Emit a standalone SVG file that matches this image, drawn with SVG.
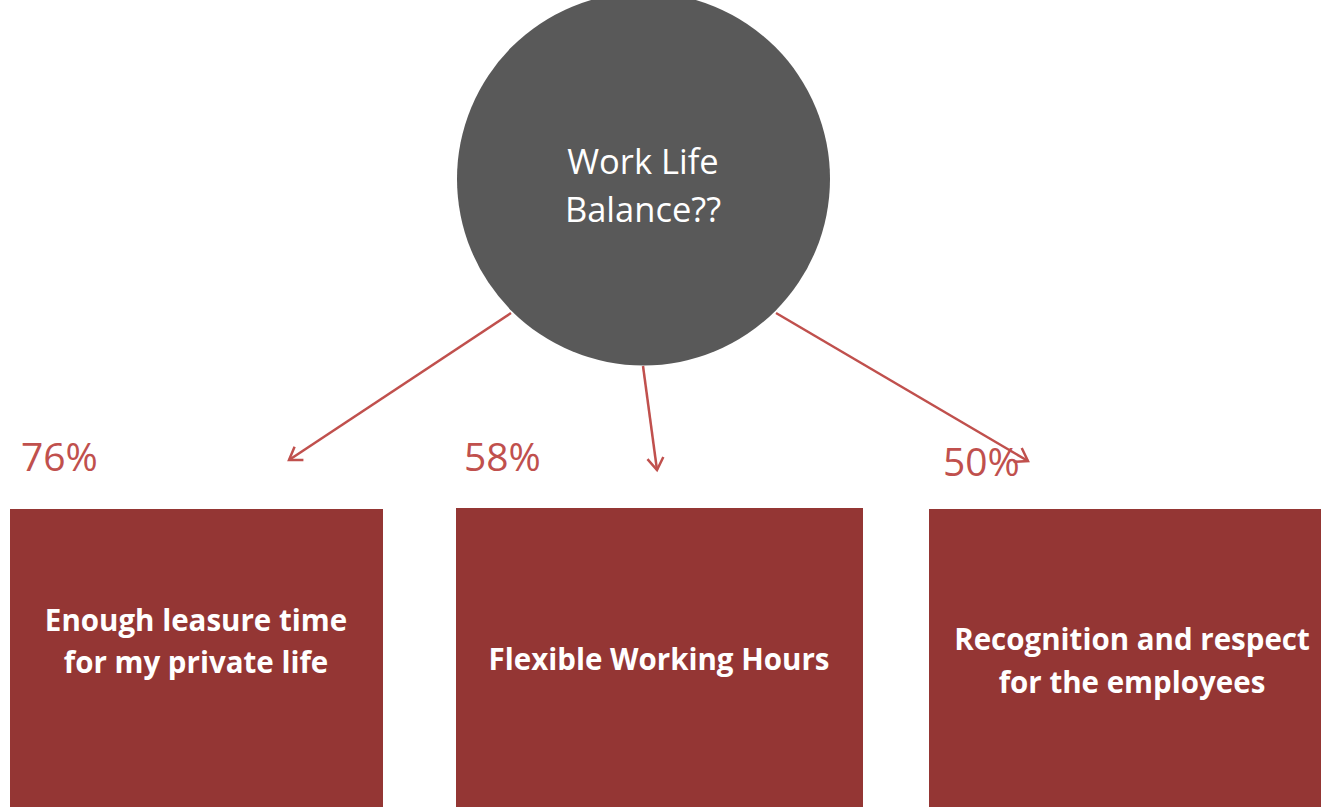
<svg xmlns="http://www.w3.org/2000/svg" width="1321" height="807" viewBox="0 0 1321 807">
<style>
.box{fill:#943634}
.bt{font-family:"Open Sans","Liberation Sans",sans-serif;font-weight:bold;font-size:29.5px;fill:#fff;text-anchor:middle}
.pct{font-family:"Open Sans","Liberation Sans",sans-serif;font-size:39px;fill:#C0504D}
.ct{font-family:"Open Sans","Liberation Sans",sans-serif;font-size:34.5px;fill:#fff;text-anchor:middle}
.conn{stroke:#C0504D;stroke-width:2.5;fill:none;marker-end:url(#arr)}
</style>
<defs>
<marker id="arr" markerUnits="userSpaceOnUse" markerWidth="30" markerHeight="30" refX="20" refY="10" orient="auto">
<path d="M8,2 L20,10 L8,18" fill="none" stroke="#C0504D" stroke-width="2.5"/>
</marker>
</defs>
<rect width="1321" height="807" fill="#fff"/>
<g id="center">
<circle cx="643.5" cy="179" r="186.5" fill="#595959"/>
<text class="ct" x="643" y="174">Work Life</text>
<text class="ct" x="643" y="222">Balance??</text>
</g>
<g id="connectors">
<line class="conn" x1="511" y1="313" x2="289" y2="460"/>
<line class="conn" x1="643" y1="366" x2="657" y2="470"/>
<line class="conn" x1="776" y1="313" x2="1028" y2="461"/>
</g>
<g id="node1">
<text class="pct" x="21" y="471">76%</text>
<rect class="box" x="10" y="509" width="373" height="298"/>
<text class="bt" x="196" y="631">Enough leasure time</text>
<text class="bt" x="196" y="673">for my private life</text>
</g>
<g id="node2">
<text class="pct" x="464" y="471">58%</text>
<rect class="box" x="456" y="508" width="407" height="299"/>
<text class="bt" x="659" y="670">Flexible Working Hours</text>
</g>
<g id="node3">
<text class="pct" x="943" y="476">50%</text>
<rect class="box" x="929" y="509" width="392" height="298"/>
<text class="bt" x="1132" y="650">Recognition and respect</text>
<text class="bt" x="1132" y="693">for the employees</text>
</g>
</svg>
